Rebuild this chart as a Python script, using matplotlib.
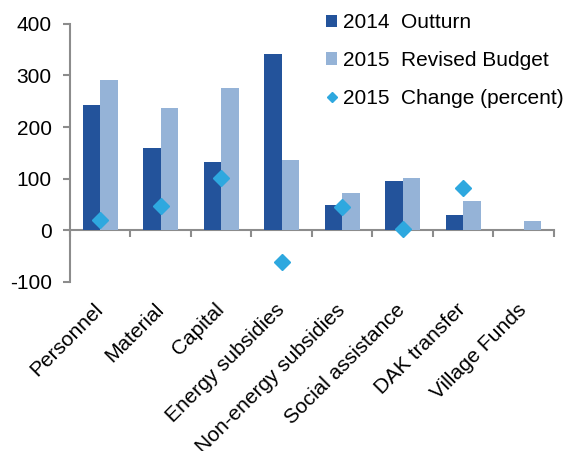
import numpy as np
import matplotlib
matplotlib.use("Agg")
import matplotlib.pyplot as plt

plt.rcParams["font.family"] = ["Liberation Sans", "DejaVu Sans"]

# dados
categories = ["Personnel", "Material", "Capital", "Energy subsidies",
              "Non-energy subsidies", "Social assistance", "DAK transfer",
              "Village Funds"]
outturn_2014 = [242, 160, 133, 341, 49, 96, 30, 0]
budget_2015 = [292, 237, 275, 136, 72, 101, 57, 18]
change_2015 = [20, 47, 102, -62, 45, 3, 82, np.nan]

DARK = "#23539B"
LIGHT = "#95B3D7"
DIAM = "#2EA8DF"
GRAY = "#8C8C8C"

fig = plt.figure(figsize=(5.68, 4.51), dpi=100)
ax = fig.add_axes([0.123, 0.375, 0.852, 0.572])

x = np.arange(len(categories))
w = 0.29
b1 = ax.bar(x - w / 2, outturn_2014, width=w, color=DARK, label="2014  Outturn")
b2 = ax.bar(x + w / 2, budget_2015, width=w, color=LIGHT, label="2015  Revised Budget")
d, = ax.plot(x, change_2015, linestyle="none", marker="D", markersize=8,
             color=DIAM, label="2015  Change (percent)", zorder=3)

ax.set_xlim(-0.5, len(categories) - 0.5)
ax.set_ylim(-100, 400)
ax.set_yticks([-100, 0, 100, 200, 300, 400])
ax.set_yticklabels(["-100", "0", "100", "200", "300", "400"])

# eixo y
for s in ["top", "right", "bottom"]:
    ax.spines[s].set_visible(False)
ax.spines["left"].set_color(GRAY)
ax.spines["left"].set_linewidth(1.5)
ax.tick_params(axis="y", direction="out", length=5, width=1.5, color=GRAY,
               labelsize=15, pad=8)

# rótulos das categorias embaixo
ax.set_xticks(x)
ax.set_xticklabels(categories, rotation=45, ha="right", va="center",
                   rotation_mode="anchor", fontsize=15)
ax.tick_params(axis="x", length=0, pad=18)

# linha do zero com ticks entre categorias
sec = ax.secondary_xaxis(0, transform=ax.transData)
sec.set_xticks(np.arange(len(categories) + 1) - 0.5)
sec.set_xticklabels([])
sec.spines["bottom"].set_color(GRAY)
sec.spines["bottom"].set_linewidth(1.5)
sec.tick_params(axis="x", direction="out", length=5, width=1.5, color=GRAY)

leg = fig.legend(handles=[b1, b2, d], loc="upper left",
                 bbox_to_anchor=(0.541, 1.012), frameon=False,
                 fontsize=15, handlelength=0.55, handleheight=0.55,
                 handletextpad=0.25, labelspacing=0.9, markerscale=0.7,
                 borderpad=0.4)

fig.savefig("out.png", dpi=100)
